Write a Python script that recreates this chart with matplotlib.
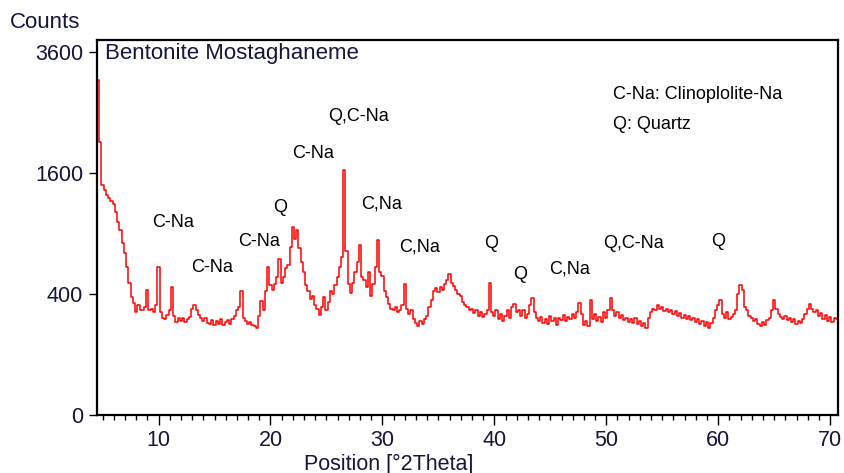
import numpy as np
import matplotlib
matplotlib.use("Agg")
from matplotlib import pyplot as plt

# XRD pattern, step 0.2 deg starting at 4.6 deg
start_2theta = 4.6
step_2theta = 0.2
counts = [
    3070, 2040, 1450, 1390, 1320, 1290, 1250, 1220, 1130, 1020,
    935, 808, 717, 601, 476, 382, 343, 292, 331, 301,
    300, 320, 430, 300, 310, 290, 330, 600, 290, 260,
    250, 275, 300, 450, 270, 235, 255, 240, 260, 235,
    250, 265, 310, 330, 300, 275, 255, 240, 255, 230,
    225, 245, 220, 240, 225, 250, 220, 235, 245, 225,
    250, 270, 300, 320, 420, 260, 240, 225, 235, 220,
    215, 205, 270, 355, 300, 420, 600, 460, 430, 470,
    520, 670, 480, 520, 590, 620, 770, 970, 850, 940,
    760, 640, 560, 460, 420, 370, 390, 330, 310, 275,
    320, 380, 300, 350, 420, 400, 460, 520, 600, 680,
    1650, 740, 470, 410, 480, 560, 640, 790, 520, 500,
    450, 560, 390, 470, 600, 840, 560, 530, 420, 380,
    340, 310, 300, 320, 290, 300, 330, 470, 310, 280,
    300, 250, 230, 215, 240, 225, 250, 270, 320, 360,
    420, 445, 415, 450, 430, 470, 500, 545, 480, 455,
    430, 400, 385, 350, 330, 320, 300, 310, 285, 300,
    270, 290, 265, 280, 300, 480, 290, 270, 300, 250,
    280, 240, 270, 300, 260, 320, 340, 290, 300, 270,
    300, 260, 280, 330, 375, 290, 260, 240, 265, 230,
    250, 225, 270, 240, 255, 220, 260, 245, 275, 240,
    265, 250, 280, 260, 290, 345, 280, 220, 240, 215,
    360, 250, 280, 240, 265, 235, 290, 260, 300, 375,
    300, 270, 290, 260, 275, 245, 260, 235, 250, 230,
    255, 225, 240, 215, 230, 205, 260, 290, 310, 300,
    330, 310, 320, 295, 310, 290, 300, 280, 295, 270,
    285, 260, 275, 250, 270, 245, 260, 235, 250, 225,
    240, 215, 235, 205, 230, 260, 300, 330, 360, 280,
    260, 290, 250, 265, 280, 300, 400, 460, 430, 320,
    300, 270, 255, 240, 250, 225, 215, 235, 220, 245,
    260, 300, 360, 310, 280, 265, 250, 270, 245, 260,
    235, 250, 225, 240, 230, 250, 280, 310, 340, 310,
    290, 300, 270, 285, 250, 275, 240, 265, 235, 260,
    250,
]
two_theta = start_2theta + step_2theta * np.arange(len(counts))

# phase labels over the peaks
peak_labels = ["C-Na", "C-Na", "C-Na", "Q", "C-Na", "Q,C-Na", "C,Na",
               "C,Na", "Q", "Q", "C,Na", "Q,C-Na", "Q"]
label_2theta = [11.3, 14.8, 19.0, 20.85, 23.8, 27.9, 29.9,
                33.35, 39.7, 42.3, 46.75, 52.45, 59.95]
label_counts = [1018, 598, 827, 1182, 1875, 2442, 1216,
                771, 808, 543, 582, 808, 827]

yticks = [0, 400, 1600, 3600]
xticks = [10, 20, 30, 40, 50, 60, 70]

plt.rcParams['font.family'] = ['Liberation Sans', 'DejaVu Sans']
txt_col = '#16163a'

fig = plt.figure(figsize=(8.44, 4.73), dpi=100)
ax = fig.add_axes([97 / 844, 58 / 473, 741 / 844, 375 / 473])

ax.plot(two_theta, counts, color='#ff0000', lw=1.1, drawstyle='steps-mid')

ax.set_yscale('function', functions=(lambda v: np.sqrt(np.clip(v, 0, None)),
                                     lambda v: np.square(v)))
ax.set_ylim(0, 3850)
ax.set_xlim(4.5, 70.7)
ax.set_yticks(yticks)
ax.set_yticklabels([str(t) for t in yticks])
ax.set_xticks(xticks)
ax.set_xticks(np.arange(5, 71, 1), minor=True)
ax.yaxis.set_minor_locator(matplotlib.ticker.NullLocator())

ax.tick_params(axis='x', which='major', length=7, width=1, pad=4,
               labelsize=15.5, labelcolor=txt_col)
ax.tick_params(axis='x', which='minor', length=3.5, width=1)
ax.tick_params(axis='y', which='major', length=6, width=1, pad=4,
               labelsize=15.5, labelcolor=txt_col)
for s in ax.spines.values():
    s.set_linewidth(1.6)

ax.text(0.011, 0.963, "Bentonite Mostaghaneme", transform=ax.transAxes,
        fontsize=16, color=txt_col, ha='left', va='center')
for lab, xx, yy in zip(peak_labels, label_2theta, label_counts):
    ax.text(xx, yy, lab, fontsize=13, color='black', ha='center', va='center')
ax.text(0.696, 0.856, "C-Na: Clinoplolite-Na", transform=ax.transAxes,
        fontsize=13, ha='left', va='center')
ax.text(0.696, 0.776, "Q: Quartz", transform=ax.transAxes,
        fontsize=13, ha='left', va='center')

fig.text(10 / 844, 1 - 22 / 473, "Counts", fontsize=16, color=txt_col,
         ha='left', va='center')
fig.text(304 / 844, 1 - 464 / 473, "Position [°2Theta]", fontsize=15.5,
         color=txt_col, ha='left', va='center')

fig.savefig("out.png", dpi=100)
